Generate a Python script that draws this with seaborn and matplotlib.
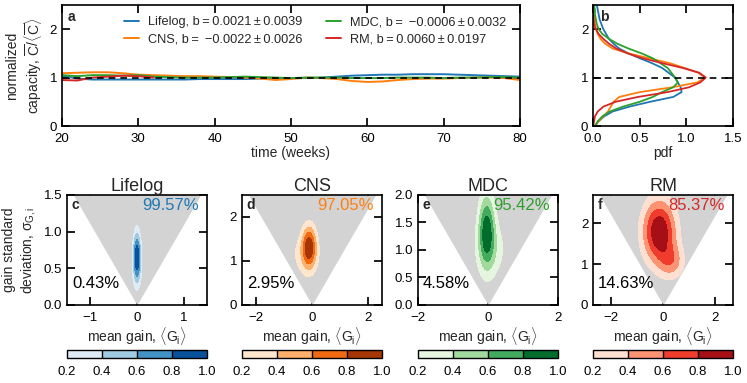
import numpy as np
import pandas as pd
import matplotlib
matplotlib.use('Agg')
import matplotlib.pyplot as plt
import seaborn as sns

# ---- data ----
datasets = ['Lifelog', 'CNS', 'MDC', 'RM']
colors = ['#1f77b4', '#ff7f0e', '#2ca02c', '#d62728']
cmaps = ['Blues', 'Oranges', 'Greens', 'Reds']
slope_text = ['0.0021\u2009±\u20090.0039', ' −0.0022\u2009±\u20090.0026',
              ' −0.0006\u2009±\u20090.0032', '0.0060\u2009±\u20090.0197']

# panel a: normalized capacity over time
weeks = list(range(20, 81, 2))
cap_lifelog = [1.04, 0.98, 0.96, 0.96, 0.96, 0.96, 0.96, 0.96, 0.96, 0.97, 0.97, 0.97, 0.97, 0.98, 0.98, 0.99,
               0.99, 1.00, 1.02, 1.04, 1.05, 1.06, 1.06, 1.07, 1.07, 1.07, 1.06, 1.05, 1.04, 1.03, 1.02]
cap_cns = [1.09, 1.10, 1.11, 1.11, 1.09, 1.06, 1.05, 1.04, 1.03, 1.03, 1.02, 1.01, 1.00, 0.98, 0.95, 0.97,
           1.00, 0.99, 0.97, 0.93, 0.91, 0.92, 0.95, 0.97, 0.98, 0.98, 0.99, 1.00, 1.00, 0.99, 0.95]
cap_mdc = [1.05, 1.03, 1.05, 1.05, 1.04, 1.05, 1.02, 1.01, 1.00, 1.00, 1.00, 1.01, 1.02, 1.01, 1.00, 0.99,
           1.00, 1.00, 1.00, 0.99, 0.99, 0.99, 1.00, 1.00, 1.00, 0.99, 1.00, 1.00, 1.01, 1.01, 1.00]
cap_rm = [0.95, 0.94, 1.00, 1.02, 1.04, 1.03, 1.00] + [np.nan] * 24

# panel b: pdf of normalized capacity
cap_grid = [round(0.1 * i, 1) for i in range(26)]
pdf_lifelog = [0.02, 0.06, 0.12, 0.21, 0.39, 0.61, 0.86, 0.95, 0.94, 0.91, 0.88, 0.81, 0.74, 0.63, 0.50, 0.38,
               0.28, 0.22, 0.17, 0.14, 0.11, 0.09, 0.07, 0.06, 0.05, 0.04]
pdf_cns = [0.02, 0.06, 0.11, 0.16, 0.19, 0.22, 0.28, 0.50, 0.85, 1.12, 1.20, 1.13, 0.98, 0.82, 0.60, 0.38,
           0.21, 0.13, 0.08, 0.05, 0.03, 0.02, 0.02, 0.01, 0.01, 0.01]
pdf_mdc = [0.02, 0.05, 0.10, 0.18, 0.32, 0.50, 0.64, 0.74, 0.86, 0.91, 0.88, 0.84, 0.80, 0.72, 0.64, 0.52,
           0.38, 0.26, 0.17, 0.10, 0.06, 0.04, 0.03, 0.02, 0.02, 0.01]
pdf_rm = [0.00, 0.01, 0.02, 0.05, 0.11, 0.24, 0.48, 0.80, 1.03, 1.15, 1.21, 1.14, 0.96, 0.74, 0.53, 0.37,
          0.25, 0.17, 0.11, 0.06, 0.03, 0.01, 0.005, 0.0, 0.0, 0.0]

# panels c-f: density blobs (core + tail) of (mean gain, gain std)
core_mean = [0.00, -0.10, -0.04, -0.15]
core_std = [0.66, 1.33, 1.38, 1.80]
core_wmean = [0.055, 0.17, 0.16, 0.45]
core_wstd = [0.24, 0.34, 0.47, 0.55]
tail_mean = [0.00, -0.25, 0.10, 0.35]
tail_std = [0.50, 1.15, 1.00, 1.05]
tail_wmean = [0.10, 0.40, 0.35, 0.35]
tail_wstd = [0.25, 0.38, 0.40, 0.30]
tail_weight = [0.15, 0.35, 0.35, 0.40]
inside_pct = ['99.57%', '97.05%', '95.42%', '85.37%']
outside_pct = ['0.43%', '2.95%', '4.58%', '14.63%']
xlims = [1.5, 2.5, 2.0, 2.7]
ylims = [1.5, 2.5, 2.0, 2.7]
xticks = [[-1, 0, 1], [-2, 0, 2], [-2, 0, 2], [-2, 0, 2]]
yticks = [[0.0, 0.5, 1.0, 1.5], [0, 1, 2], [0.0, 0.5, 1.0, 1.5, 2.0], [0, 1, 2]]
cone_slope = 1.1
levels = [0.2, 0.4, 0.6, 0.8, 1.0]

sns.set_theme(style='ticks')
plt.rcParams['font.family'] = ['Liberation Sans', 'DejaVu Sans']
plt.rcParams['mathtext.fontset'] = 'custom'
plt.rcParams['mathtext.rm'] = 'Liberation Sans'
plt.rcParams['mathtext.it'] = 'Liberation Sans:italic'
plt.rcParams['xtick.direction'] = 'in'
plt.rcParams['ytick.direction'] = 'in'
plt.rcParams['xtick.top'] = True
plt.rcParams['ytick.right'] = True
plt.rcParams['xtick.major.pad'] = 5
plt.rcParams['xtick.labelsize'] = 9.5
plt.rcParams['ytick.labelsize'] = 9.5
plt.rcParams['axes.labelsize'] = 10
plt.rcParams['axes.linewidth'] = 1.2
plt.rcParams['axes.edgecolor'] = 'black'
plt.rcParams['xtick.color'] = 'black'
plt.rcParams['ytick.color'] = 'black'

fig = plt.figure(figsize=(7.47, 3.83), dpi=100)

# ---- panel a ----
ax_a = fig.add_axes([0.083, 0.671, 0.613, 0.316])
df_a = pd.DataFrame({
    'week': weeks * 4,
    'cap': cap_lifelog + cap_cns + cap_mdc + cap_rm,
    'set': sum([[d] * len(weeks) for d in datasets], []),
})
labels = {d: f'{d}, b\u2009=\u2009{s}' for d, s in zip(datasets, slope_text)}
df_a['label'] = df_a['set'].map(labels)
sns.lineplot(data=df_a, x='week', y='cap', hue='label', palette=colors, lw=1.4, ax=ax_a)
ax_a.axhline(1, color='black', ls='--', lw=1.2, dashes=(4, 3))
ax_a.set_xlim(20, 80)
ax_a.set_ylim(0, 2.5)
ax_a.set_yticks([0, 1, 2])
ax_a.set_xlabel('time (weeks)', labelpad=1)
ax_a.set_ylabel('normalized\ncapacity, $\\overline{\\mathrm{C}}/\\langle\\overline{\\mathrm{C}}\\rangle$', labelpad=4)
ax_a.legend(ncol=2, frameon=False, loc='upper right', bbox_to_anchor=(0.995, 1.0),
            fontsize=9.2, handlelength=1.2, handletextpad=0.7, columnspacing=1.8, labelspacing=0.4)
ax_a.text(0.012, 0.96, 'a', transform=ax_a.transAxes, fontsize=10, fontweight='bold', va='top')

# ---- panel b ----
ax_b = fig.add_axes([0.794, 0.671, 0.187, 0.316])
df_b = pd.DataFrame({
    'cap': cap_grid * 4,
    'pdf': pdf_lifelog + pdf_cns + pdf_mdc + pdf_rm,
    'set': sum([[d] * len(cap_grid) for d in datasets], []),
})
sns.lineplot(data=df_b, x='pdf', y='cap', hue='set', palette=colors, orient='y',
             sort=False, lw=1.3, legend=False, ax=ax_b)
ax_b.axhline(1, color='black', ls='--', lw=1.2, dashes=(4, 3))
ax_b.set_xlim(0, 1.5)
ax_b.set_ylim(0, 2.5)
ax_b.set_xticks([0.0, 0.5, 1.0, 1.5])
ax_b.set_yticks([0, 1, 2])
ax_b.set_xlabel('pdf', labelpad=1)
ax_b.set_ylabel('')
ax_b.text(0.05, 0.96, 'b', transform=ax_b.transAxes, fontsize=10, fontweight='bold', va='top')


def blob(xx, yy, mx, my, sx, sy):
    return np.exp(-0.5 * (((xx - mx) / sx) ** 2 + ((yy - my) / sy) ** 2))


# ---- panels c-f ----
lefts = [0.0897, 0.324, 0.5596, 0.794]
letters = ['c', 'd', 'e', 'f']
for i, name in enumerate(datasets):
    ax = fig.add_axes([lefts[i], 0.204, 0.1874, 0.287])
    xl, yl = xlims[i], ylims[i]
    xs = np.linspace(-xl, xl, 300)
    ax.fill_between(xs, cone_slope * np.abs(xs), yl, color='#d3d3d3', lw=0)
    gx, gy = np.meshgrid(np.linspace(-xl, xl, 300), np.linspace(0, yl, 300))
    dens = blob(gx, gy, core_mean[i], core_std[i], core_wmean[i], core_wstd[i]) \
        + tail_weight[i] * blob(gx, gy, tail_mean[i], tail_std[i], tail_wmean[i], tail_wstd[i])
    dens = dens / dens.max()
    cs = ax.contourf(gx, gy, dens, levels=levels, cmap=cmaps[i])
    ax.set_xlim(-xl, xl)
    ax.set_ylim(0, yl)
    ax.set_xticks(xticks[i])
    ax.set_yticks(yticks[i])
    if i in (0, 2):
        ax.set_yticklabels([f'{v:.1f}' for v in yticks[i]])
    ax.set_title(name, fontsize=13, pad=2)
    ax.set_xlabel('mean gain, $\\langle\\mathrm{G_i}\\rangle$', labelpad=1)
    if i == 0:
        ax.set_ylabel('gain standard\ndeviation, $\\mathrm{\\sigma_{G,i}}$', labelpad=4)
    ax.text(0.03, 0.97, letters[i], transform=ax.transAxes, fontsize=10, fontweight='bold', va='top')
    ax.text(0.94, 0.97, inside_pct[i], transform=ax.transAxes, fontsize=12, color=colors[i],
            ha='right', va='top')
    ax.text(0.035, 0.15, outside_pct[i], transform=ax.transAxes, fontsize=12, color='black',
            ha='left', va='baseline')
    cax = fig.add_axes([lefts[i], 0.065, 0.1874, 0.021])
    cb = fig.colorbar(cs, cax=cax, orientation='horizontal', ticks=levels, drawedges=True)
    cb.outline.set_linewidth(1.0)
    cb.dividers.set_linewidth(1.0)
    cax.tick_params(length=0, labelsize=9.5, pad=6, top=False)

fig.savefig('out.png', dpi=100)
